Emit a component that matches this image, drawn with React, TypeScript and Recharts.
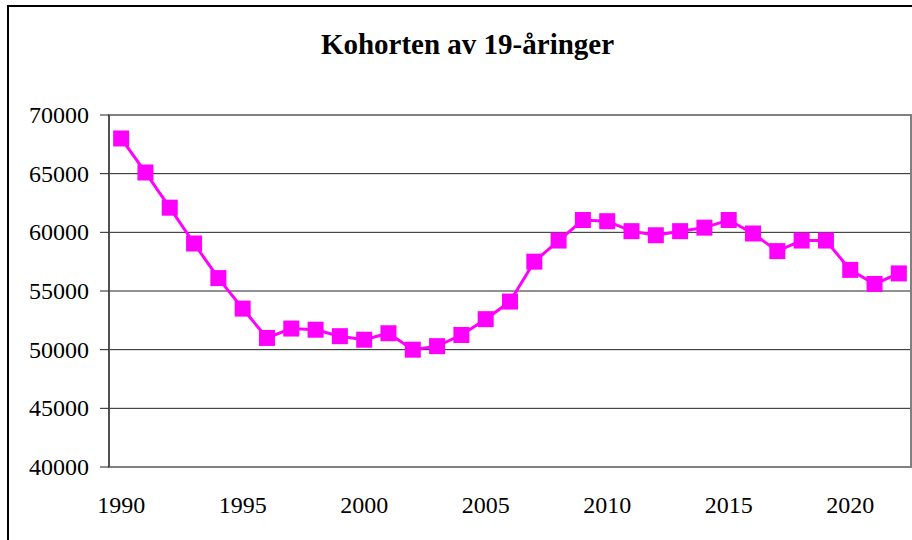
import { LineChart, Line, XAxis, YAxis, CartesianGrid, ReferenceArea } from "recharts";

const years = [
  1990, 1991, 1992, 1993, 1994, 1995, 1996, 1997, 1998, 1999, 2000, 2001,
  2002, 2003, 2004, 2005, 2006, 2007, 2008, 2009, 2010, 2011, 2012, 2013,
  2014, 2015, 2016, 2017, 2018, 2019, 2020, 2021, 2022,
];
const cohort = [
  68000, 65100, 62100, 59050, 56100, 53500, 51000, 51800, 51700, 51150, 50850,
  51400, 50000, 50300, 51250, 52600, 54100, 57500, 59300, 61050, 60950, 60100,
  59750, 60100, 60400, 61050, 59900, 58400, 59300, 59300, 56800, 55600, 56500,
];
const yTicks = [40000, 45000, 50000, 55000, 60000, 65000, 70000];
const yearLabels = [1990, 1995, 2000, 2005, 2010, 2015, 2020];
// tick marks sit between the yearly categories
const yearEdges = [...years.map((y) => y - 0.5), years[years.length - 1] + 0.5];

const data = years.map((year, i) => ({ year, value: cohort[i] }));

const font = "Liberation Serif";
const xDomain = [yearEdges[0], yearEdges[yearEdges.length - 1]];

function SquareDot(props: any) {
  const { cx, cy } = props;
  if (cx == null || cy == null) return null;
  return <rect x={cx - 8} y={cy - 8} width={16} height={16} fill="#ff00ff" />;
}

function YTick(props: any) {
  const { x, y, payload } = props;
  return (
    <text x={x} y={y} dy={8} textAnchor="end" fill="#000" style={{ fontFamily: font, fontSize: 24 }}>
      {payload.value}
    </text>
  );
}

function XTick(props: any) {
  const { x, y, payload } = props;
  return (
    <text x={x} y={y} dy={17} textAnchor="middle" fill="#000" style={{ fontFamily: font, fontSize: 24 }}>
      {payload.value}
    </text>
  );
}

export default function App() {
  return (
    <div
      style={{
        position: "absolute",
        left: 7,
        top: 5,
        width: 910,
        height: 540,
        border: "2px solid #000",
        background: "#fff",
        fontFamily: font,
      }}
    >
      <div
        style={{
          position: "absolute",
          left: 0,
          top: 23,
          width: 917,
          textAlign: "center",
          fontSize: 29,
          lineHeight: "29px",
          fontWeight: "bold",
        }}
      >
        Kohorten av 19-åringer
      </div>
      <LineChart
        width={910}
        height={540}
        data={data}
        margin={{ top: 108, right: 8, bottom: 20, left: 0 }}
        style={{ fontFamily: font }}
      >
        <CartesianGrid vertical={false} stroke="#222" strokeWidth={1} />
        <ReferenceArea
          xAxisId="edges"
          x1={xDomain[0]}
          x2={xDomain[1]}
          y1={40000}
          y2={70000}
          fill="none"
          fillOpacity={0}
          stroke="#808080"
          strokeWidth={2}
          ifOverflow="visible"
        />
        <XAxis
          xAxisId="edges"
          type="number"
          dataKey="year"
          domain={xDomain}
          ticks={yearEdges}
          interval={0}
          height={0}
          tick={() => <g />}
          tickSize={7}
          axisLine={{ stroke: "#222" }}
          tickLine={{ stroke: "#222" }}
          allowDataOverflow
        />
        <XAxis
          xAxisId="labels"
          type="number"
          dataKey="year"
          domain={xDomain}
          ticks={yearLabels}
          interval={0}
          height={60}
          axisLine={false}
          tickLine={false}
          tickSize={0}
          tickMargin={29}
          tick={<XTick />}
          allowDataOverflow
        />
        <YAxis
          domain={[40000, 70000]}
          ticks={yTicks}
          interval={0}
          width={100}
          tickSize={9}
          tickMargin={11}
          axisLine={{ stroke: "#222" }}
          tickLine={{ stroke: "#222" }}
          tick={<YTick />}
          allowDataOverflow
        />
        <Line
          xAxisId="edges"
          type="linear"
          dataKey="value"
          stroke="#ff00ff"
          strokeWidth={3}
          dot={<SquareDot />}
          activeDot={false}
          isAnimationActive={false}
        />
      </LineChart>
    </div>
  );
}
